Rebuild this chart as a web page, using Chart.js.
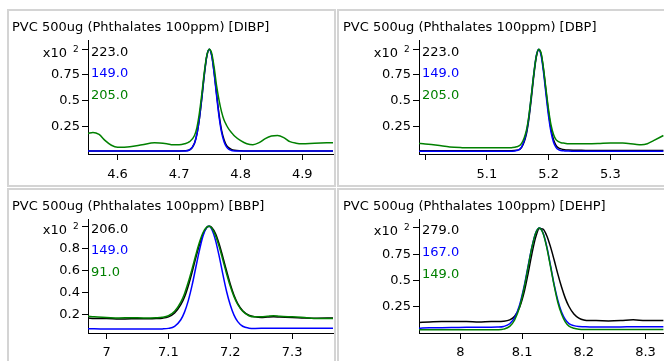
<!DOCTYPE html>
<html>
<head>
<meta charset="utf-8">
<script src="https://cdn.jsdelivr.net/npm/chart.js@4.4.1/dist/chart.umd.min.js"></script>
<style>
	html, body { margin: 0; padding: 0; background: #fff; }
	body { width: 664px; height: 361px; position: relative; overflow: hidden; }
	.panel { position: absolute; box-sizing: border-box; border: 2px solid #d4d4d4; }
	canvas { position: absolute; }
</style>
</head>
<body>
<div class="panel" style="left:7px;top:9px;width:329px;height:178px"></div>
<div class="panel" style="left:337px;top:9px;width:330px;height:178px"></div>
<div class="panel" style="left:7px;top:188px;width:329px;height:180px"></div>
<div class="panel" style="left:337px;top:188px;width:330px;height:180px"></div>
<canvas id="dibp" width="324" height="172" style="left:10px;top:12px"></canvas>
<canvas id="dbp" width="323" height="172" style="left:341px;top:12px"></canvas>
<canvas id="bbp" width="324" height="170" style="left:10px;top:191px"></canvas>
<canvas id="dehp" width="323" height="170" style="left:341px;top:191px"></canvas>
<script>
/* Data (normalised intensity vs retention time, min) */
var seriesColors = ['#000000', '#0000ff', '#008000'];

var dibpIons = ['223.0', '149.0', '205.0'];
var dibpTimes = [4.552, 4.56, 4.57, 4.58, 4.59, 4.60, 4.62, 4.64, 4.66, 4.68, 4.69, 4.70,
	4.709, 4.717, 4.725, 4.729, 4.733, 4.737, 4.741, 4.745, 4.749, 4.753, 4.757, 4.761, 4.765, 4.769, 4.773, 4.777, 4.781, 4.785, 4.79, 4.80,
	4.81, 4.82, 4.83, 4.84, 4.85, 4.86, 4.87, 4.88, 4.89, 4.90, 4.92, 4.95];
var dibp223 = [0.01, 0.01, 0.01, 0.01, 0.01, 0.01, 0.01, 0.01, 0.01, 0.01, 0.01, 0.01,
	0.011, 0.02, 0.085, 0.175, 0.325, 0.525, 0.75, 0.93, 1.0, 0.94, 0.77, 0.56, 0.36, 0.21, 0.12, 0.065, 0.04, 0.025, 0.017, 0.012,
	0.01, 0.01, 0.01, 0.01, 0.01, 0.01, 0.01, 0.01, 0.01, 0.01, 0.01, 0.01];
var dibp149 = [0.008, 0.008, 0.008, 0.008, 0.008, 0.008, 0.008, 0.008, 0.008, 0.008, 0.008, 0.008,
	0.009, 0.019, 0.085, 0.177, 0.33, 0.535, 0.76, 0.935, 1.0, 0.935, 0.76, 0.54, 0.34, 0.19, 0.10, 0.05, 0.025, 0.015, 0.01, 0.008,
	0.008, 0.008, 0.008, 0.008, 0.008, 0.008, 0.008, 0.008, 0.008, 0.008, 0.008, 0.008];
var dibp205 = [0.18, 0.19, 0.17, 0.11, 0.065, 0.045, 0.05, 0.07, 0.09, 0.08, 0.07, 0.07,
	0.08, 0.10, 0.16, 0.24, 0.38, 0.57, 0.78, 0.94, 1.0, 0.96, 0.82, 0.64, 0.50, 0.39, 0.31, 0.26, 0.22, 0.19, 0.155, 0.11,
	0.08, 0.07, 0.09, 0.13, 0.155, 0.16, 0.14, 0.10, 0.085, 0.08, 0.085, 0.09];

var dbpIons = ['223.0', '149.0', '205.0'];
var dbpTimes = [4.989, 5.00, 5.02, 5.04, 5.06, 5.08, 5.10, 5.12, 5.13, 5.14,
	5.148, 5.156, 5.164, 5.168, 5.172, 5.176, 5.180, 5.184, 5.188, 5.192, 5.196, 5.200, 5.204, 5.208, 5.212, 5.216, 5.220, 5.226, 5.232,
	5.24, 5.25, 5.26, 5.28, 5.30, 5.32, 5.34, 5.35, 5.36, 5.37, 5.386];
var dbp223 = [0.012, 0.012, 0.012, 0.012, 0.012, 0.012, 0.012, 0.012, 0.012, 0.012,
	0.016, 0.042, 0.175, 0.32, 0.52, 0.74, 0.92, 0.995, 0.95, 0.79, 0.58, 0.38, 0.22, 0.12, 0.065, 0.04, 0.03, 0.022, 0.019,
	0.017, 0.016, 0.015, 0.014, 0.014, 0.014, 0.014, 0.014, 0.014, 0.014, 0.014];
var dbp149 = [0.006, 0.006, 0.006, 0.006, 0.006, 0.006, 0.006, 0.006, 0.006, 0.007,
	0.014, 0.045, 0.19, 0.34, 0.545, 0.76, 0.935, 1.0, 0.935, 0.765, 0.55, 0.345, 0.19, 0.095, 0.045, 0.022, 0.014, 0.01, 0.008,
	0.007, 0.006, 0.006, 0.006, 0.006, 0.006, 0.006, 0.006, 0.006, 0.006, 0.006];
var dbp205 = [0.083, 0.078, 0.065, 0.048, 0.042, 0.04, 0.04, 0.04, 0.04, 0.042,
	0.05, 0.08, 0.21, 0.35, 0.55, 0.76, 0.93, 1.0, 0.96, 0.80, 0.60, 0.41, 0.26, 0.17, 0.12, 0.10, 0.09, 0.085, 0.08,
	0.08, 0.08, 0.08, 0.082, 0.088, 0.088, 0.075, 0.07, 0.08, 0.11, 0.16];

var bbpIons = ['206.0', '149.0', '91.0'];
var bbpTimes = [6.970, 6.98, 7.00, 7.02, 7.04, 7.06, 7.08, 7.09, 7.10, 7.11, 7.12, 7.126, 7.132, 7.138, 7.144, 7.150, 7.156, 7.162, 7.166,
	7.170, 7.176, 7.182, 7.188, 7.194, 7.200, 7.206, 7.212, 7.22, 7.23, 7.24, 7.25, 7.26, 7.27, 7.28, 7.30, 7.32, 7.34, 7.366];
var bbp206 = [0.17, 0.165, 0.165, 0.16, 0.163, 0.162, 0.165, 0.168, 0.18, 0.215, 0.29, 0.36, 0.46, 0.58, 0.71, 0.83, 0.93, 0.99, 1.0,
	0.99, 0.935, 0.84, 0.72, 0.595, 0.475, 0.375, 0.30, 0.235, 0.195, 0.18, 0.175, 0.178, 0.18, 0.178, 0.175, 0.17, 0.168, 0.17];
var bbp149 = [0.072, 0.072, 0.07, 0.07, 0.07, 0.07, 0.07, 0.071, 0.076, 0.095, 0.154, 0.223, 0.325, 0.46, 0.62, 0.78, 0.915, 0.99, 1.0,
	0.973, 0.875, 0.73, 0.565, 0.41, 0.287, 0.196, 0.137, 0.095, 0.078, 0.075, 0.076, 0.078, 0.078, 0.078, 0.077, 0.077, 0.076, 0.077];
var bbp91 = [0.185, 0.18, 0.175, 0.17, 0.172, 0.17, 0.172, 0.176, 0.19, 0.23, 0.313, 0.39, 0.493, 0.61, 0.736, 0.853, 0.944, 0.993, 1.0,
	0.983, 0.917, 0.816, 0.695, 0.57, 0.456, 0.363, 0.292, 0.23, 0.19, 0.18, 0.18, 0.185, 0.19, 0.185, 0.18, 0.175, 0.165, 0.165];

var dehpIons = ['279.0', '167.0', '149.0'];
var dehpTimes = [7.933, 7.95, 7.97, 7.99, 8.01, 8.03, 8.05, 8.06, 8.07, 8.08, 8.088, 8.096, 8.104, 8.110, 8.116, 8.122, 8.128,
	8.134, 8.140, 8.146, 8.152, 8.158, 8.164, 8.170, 8.176, 8.184, 8.192, 8.20, 8.21, 8.22, 8.24, 8.26, 8.28, 8.30, 8.329];
var dehp279 = [0.10, 0.105, 0.11, 0.11, 0.11, 0.105, 0.11, 0.11, 0.112, 0.125, 0.16, 0.245, 0.405, 0.573, 0.756, 0.91, 0.995,
	0.988, 0.926, 0.822, 0.695, 0.56, 0.437, 0.332, 0.252, 0.181, 0.142, 0.123, 0.118, 0.118, 0.115, 0.118, 0.125, 0.12, 0.12];
var dehp167 = [0.045, 0.05, 0.05, 0.052, 0.055, 0.055, 0.055, 0.056, 0.062, 0.088, 0.146, 0.267, 0.462, 0.644, 0.82, 0.952, 1.0,
	0.952, 0.825, 0.645, 0.46, 0.31, 0.2, 0.13, 0.09, 0.07, 0.062, 0.06, 0.058, 0.058, 0.058, 0.058, 0.06, 0.06, 0.06];
var dehp149 = [0.03, 0.03, 0.03, 0.03, 0.03, 0.03, 0.03, 0.031, 0.037, 0.063, 0.124, 0.247, 0.448, 0.634, 0.816, 0.95, 1.0,
	0.95, 0.815, 0.635, 0.45, 0.29, 0.18, 0.105, 0.065, 0.045, 0.036, 0.033, 0.033, 0.033, 0.033, 0.033, 0.034, 0.034, 0.034];

/* Tick values and labels */
var dibpXTicks = [4.6, 4.7, 4.8, 4.9];
var dibpXLabels = ['4.6', '4.7', '4.8', '4.9'];
var dbpXTicks = [5.0, 5.1, 5.2, 5.3];
var dbpXLabels = ['', '5.1', '5.2', '5.3'];
var bbpXTicks = [7.0, 7.1, 7.2, 7.3];
var bbpXLabels = ['7', '7.1', '7.2', '7.3'];
var dehpXTicks = [8.0, 8.1, 8.2, 8.3];
var dehpXLabels = ['8', '8.1', '8.2', '8.3'];
var quarterYTicks = [0.25, 0.5, 0.75, 1];
var quarterYLabels = ['0.25', '0.5', '0.75', ''];
var fifthYTicks = [0.2, 0.4, 0.6, 0.8, 1];
var fifthYLabels = ['0.2', '0.4', '0.6', '0.8', ''];

var titlePrefix = 'PVC 500ug (Phthalates 100ppm) ';
var fontFamily = '"DejaVu Sans"';

Chart.defaults.font.family = fontFamily;
Chart.defaults.font.size = 13;
Chart.defaults.color = '#000';

/* Title, ion labels and the x10^2 exponent */
var makeOverlay = function(panel){
	return {
		id: 'overlay',
		afterDraw: function(chart){
			var ctx = chart.ctx;
			var area = chart.chartArea;
			var yTop = chart.scales.y.getPixelForValue(1);
			ctx.save();
			ctx.textAlign = 'left';
			ctx.textBaseline = 'alphabetic';
			ctx.font = '13px ' + fontFamily;
			ctx.fillStyle = '#000';
			ctx.fillText(panel.title, 2, 19);
			panel.ions.forEach(function(ion, i){
				ctx.fillStyle = seriesColors[i];
				ctx.fillText(ion, area.left + 3, yTop + 6.5 + i * 21.6);
			});
			ctx.fillStyle = '#000';
			ctx.textAlign = 'right';
			ctx.fillText('x10', area.left - 21, yTop + 7.4);
			ctx.font = '9px ' + fontFamily;
			ctx.textAlign = 'left';
			ctx.fillText('2', area.left - 15, yTop + 2.5);
			ctx.restore();
		}
	};
};

var renderPanel = function(panel){
	var datasets = panel.series.map(function(values, i){
		return {
			label: panel.ions[i],
			data: panel.times.map(function(t, j){ return { x: t, y: values[j] }; }),
			borderColor: seriesColors[i],
			borderWidth: 1.5,
			pointRadius: 0,
			fill: false,
			cubicInterpolationMode: 'monotone',
			order: 3 - i
		};
	});

	new Chart(document.getElementById(panel.id), {
		type: 'line',
		data: { datasets: datasets },
		options: {
			responsive: false,
			animation: false,
			layout: { padding: { top: 28, right: panel.padRight, left: 0, bottom: 0 } },
			plugins: { legend: { display: false }, tooltip: { enabled: false }, title: { display: false } },
			scales: {
				x: {
					type: 'linear',
					min: panel.xMin,
					max: panel.xMax,
					afterBuildTicks: function(axis){ axis.ticks = panel.xTicks.map(function(v){ return { value: v }; }); },
					afterFit: function(axis){ axis.height = panel.xHeight; },
					ticks: {
						autoSkip: false,
						maxRotation: 0,
						padding: panel.xPad,
						callback: function(value, index){ return panel.xLabels[index]; }
					},
					grid: { drawOnChartArea: false, drawTicks: true, tickLength: 6, color: '#000' },
					border: { display: true, color: '#000', width: 1 }
				},
				y: {
					min: panel.yMin,
					max: panel.yMax,
					afterBuildTicks: function(axis){ axis.ticks = panel.yTicks.map(function(v){ return { value: v }; }); },
					afterFit: function(axis){ axis.width = 78; },
					ticks: {
						padding: 2,
						callback: function(value, index){ return panel.yLabels[index]; }
					},
					grid: { drawOnChartArea: false, drawTicks: true, tickLength: 6, color: '#000' },
					border: { display: true, color: '#000', width: 1 }
				}
			}
		},
		plugins: [makeOverlay(panel)]
	});
};

renderPanel({
	id: 'dibp', title: titlePrefix + '[DIBP]', ions: dibpIons,
	times: dibpTimes, series: [dibp223, dibp149, dibp205],
	xMin: 4.552, xMax: 4.95, xTicks: dibpXTicks, xLabels: dibpXLabels,
	yMin: -0.02, yMax: 1.09, yTicks: quarterYTicks, yLabels: quarterYLabels,
	xHeight: 30, xPad: 6.5, padRight: 1
});
renderPanel({
	id: 'dbp', title: titlePrefix + '[DBP]', ions: dbpIons,
	times: dbpTimes, series: [dbp223, dbp149, dbp205],
	xMin: 4.990, xMax: 5.387, xTicks: dbpXTicks, xLabels: dbpXLabels,
	yMin: -0.02, yMax: 1.09, yTicks: quarterYTicks, yLabels: quarterYLabels,
	xHeight: 30, xPad: 6.5, padRight: 0
});
renderPanel({
	id: 'bbp', title: titlePrefix + '[BBP]', ions: bbpIons,
	times: bbpTimes, series: [bbp206, bbp149, bbp91],
	xMin: 6.970, xMax: 7.366, xTicks: bbpXTicks, xLabels: bbpXLabels,
	yMin: 0.034, yMax: 1.066, yTicks: fifthYTicks, yLabels: fifthYLabels,
	xHeight: 28, xPad: 5.5, padRight: 1
});
renderPanel({
	id: 'dehp', title: titlePrefix + '[DEHP]', ions: dehpIons,
	times: dehpTimes, series: [dehp279, dehp167, dehp149],
	xMin: 7.933, xMax: 8.330, xTicks: dehpXTicks, xLabels: dehpXLabels,
	yMin: 0.0, yMax: 1.085, yTicks: quarterYTicks, yLabels: quarterYLabels,
	xHeight: 28, xPad: 5.5, padRight: 0
});
</script>
</body>
</html>
